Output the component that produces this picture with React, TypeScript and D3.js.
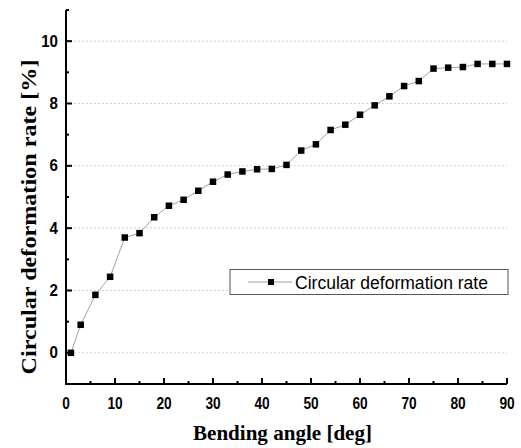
import React from 'react';
import * as d3 from 'd3';

// bending angle [deg] and circular deformation rate [%]
const angles = [1, 3, 6, 9, 12, 15, 18, 21, 24, 27, 30, 33, 36, 39, 42, 45, 48, 51, 54, 57, 60, 63, 66, 69, 72, 75, 78, 81, 84, 87, 90];
const rates = [0, 0.9, 1.86, 2.44, 3.7, 3.84, 4.35, 4.72, 4.91, 5.2, 5.49, 5.72, 5.82, 5.89, 5.9, 6.03, 6.49, 6.69, 7.15, 7.32, 7.64, 7.94, 8.23, 8.56, 8.72, 9.12, 9.15, 9.17, 9.27, 9.27, 9.27];

const xTicks = [0, 10, 20, 30, 40, 50, 60, 70, 80, 90];
const xMinor = [5, 15, 25, 35, 45, 55, 65, 75, 85];
const yTicks = [0, 2, 4, 6, 8, 10];
const yMinor = [-1, 1, 3, 5, 7, 9, 11];

const seriesName = 'Circular deformation rate';

const App = () => {
  const width = 521;
  const height = 448;
  const x = d3.scaleLinear().domain([0, 90]).range([66, 507]);
  const y = d3.scaleLinear().domain([-1, 11]).range([384, 10]);

  const line = d3.line<number>()
    .x((d, i) => x(angles[i]))
    .y((d) => y(d));

  const sans = '"Liberation Sans", Arial, sans-serif';
  const serif = '"Liberation Serif", "Times New Roman", serif';
  // tick digits in the original are tall and narrow
  const digitW = 7.6;

  return (
    <svg width={width} height={height} style={{ position: 'absolute', left: 0, top: 0, background: '#fff' }}>
      {/* grid */}
      {yTicks.map((t) => (
        <line key={'g' + t} x1={x(0)} x2={x(90)} y1={y(t)} y2={y(t)}
          stroke="#d0d0d0" strokeWidth={1} strokeDasharray="2,2" />
      ))}

      {/* series */}
      <path d={line(rates) || ''} fill="none" stroke="#a0a0a0" strokeWidth={1} />
      {rates.map((v, i) => (
        <rect key={'p' + i} x={x(angles[i]) - 3.25} y={y(v) - 3.25} width={6.5} height={6.5} fill="#000" />
      ))}

      {/* axes */}
      <line x1={x(0)} x2={x(90)} y1={y(-1)} y2={y(-1)} stroke="#000" strokeWidth={2} />
      <line x1={x(0)} x2={x(0)} y1={y(-1) + 1} y2={y(11)} stroke="#000" strokeWidth={2} />

      {xTicks.map((t) => (
        <g key={'xt' + t}>
          <line x1={x(t)} x2={x(t)} y1={y(-1)} y2={y(-1) - 6} stroke="#000" strokeWidth={2} />
          <text x={x(t)} y={408.5} textAnchor="middle" fontFamily={sans} fontWeight="bold" fontSize={16}
            textLength={String(t).length * digitW} lengthAdjust="spacingAndGlyphs">{t}</text>
        </g>
      ))}
      {xMinor.map((t) => (
        <line key={'xm' + t} x1={x(t)} x2={x(t)} y1={y(-1)} y2={y(-1) - 3} stroke="#000" strokeWidth={2} />
      ))}

      {yTicks.map((t) => (
        <g key={'yt' + t}>
          <line x1={x(0)} x2={x(0) + 6} y1={y(t)} y2={y(t)} stroke="#000" strokeWidth={2} />
          <text x={58} y={y(t) + 5.5} textAnchor="end" fontFamily={sans} fontWeight="bold" fontSize={16}
            textLength={String(t).length * 8.4} lengthAdjust="spacingAndGlyphs">{t}</text>
        </g>
      ))}
      {yMinor.map((t) => (
        <line key={'ym' + t} x1={x(0)} x2={x(0) + 3} y1={y(t)} y2={y(t)} stroke="#000" strokeWidth={2} />
      ))}

      {/* axis titles */}
      <text x={282.5} y={440} textAnchor="middle" fontFamily={serif} fontWeight="bold" fontSize={21}
        textLength={179} lengthAdjust="spacingAndGlyphs">Bending angle [deg]</text>
      <text transform="translate(36,217) rotate(-90)" textAnchor="middle" fontFamily={serif} fontWeight="bold" fontSize={21}
        textLength={315} lengthAdjust="spacingAndGlyphs">Circular deformation rate [%]</text>

      {/* legend */}
      <g>
        <rect x={230} y={269.5} width={278} height={25} fill="#fff" stroke="#555" strokeWidth={1} />
        <line x1={248} x2={292} y1={282} y2={282} stroke="#a0a0a0" strokeWidth={1} />
        <rect x={268} y={279} width={6} height={6} fill="#000" />
        <text x={295} y={288.5} fontFamily={sans} fontSize={17.5}
          textLength={193} lengthAdjust="spacingAndGlyphs">{seriesName}</text>
      </g>
    </svg>
  );
};

export default App;
